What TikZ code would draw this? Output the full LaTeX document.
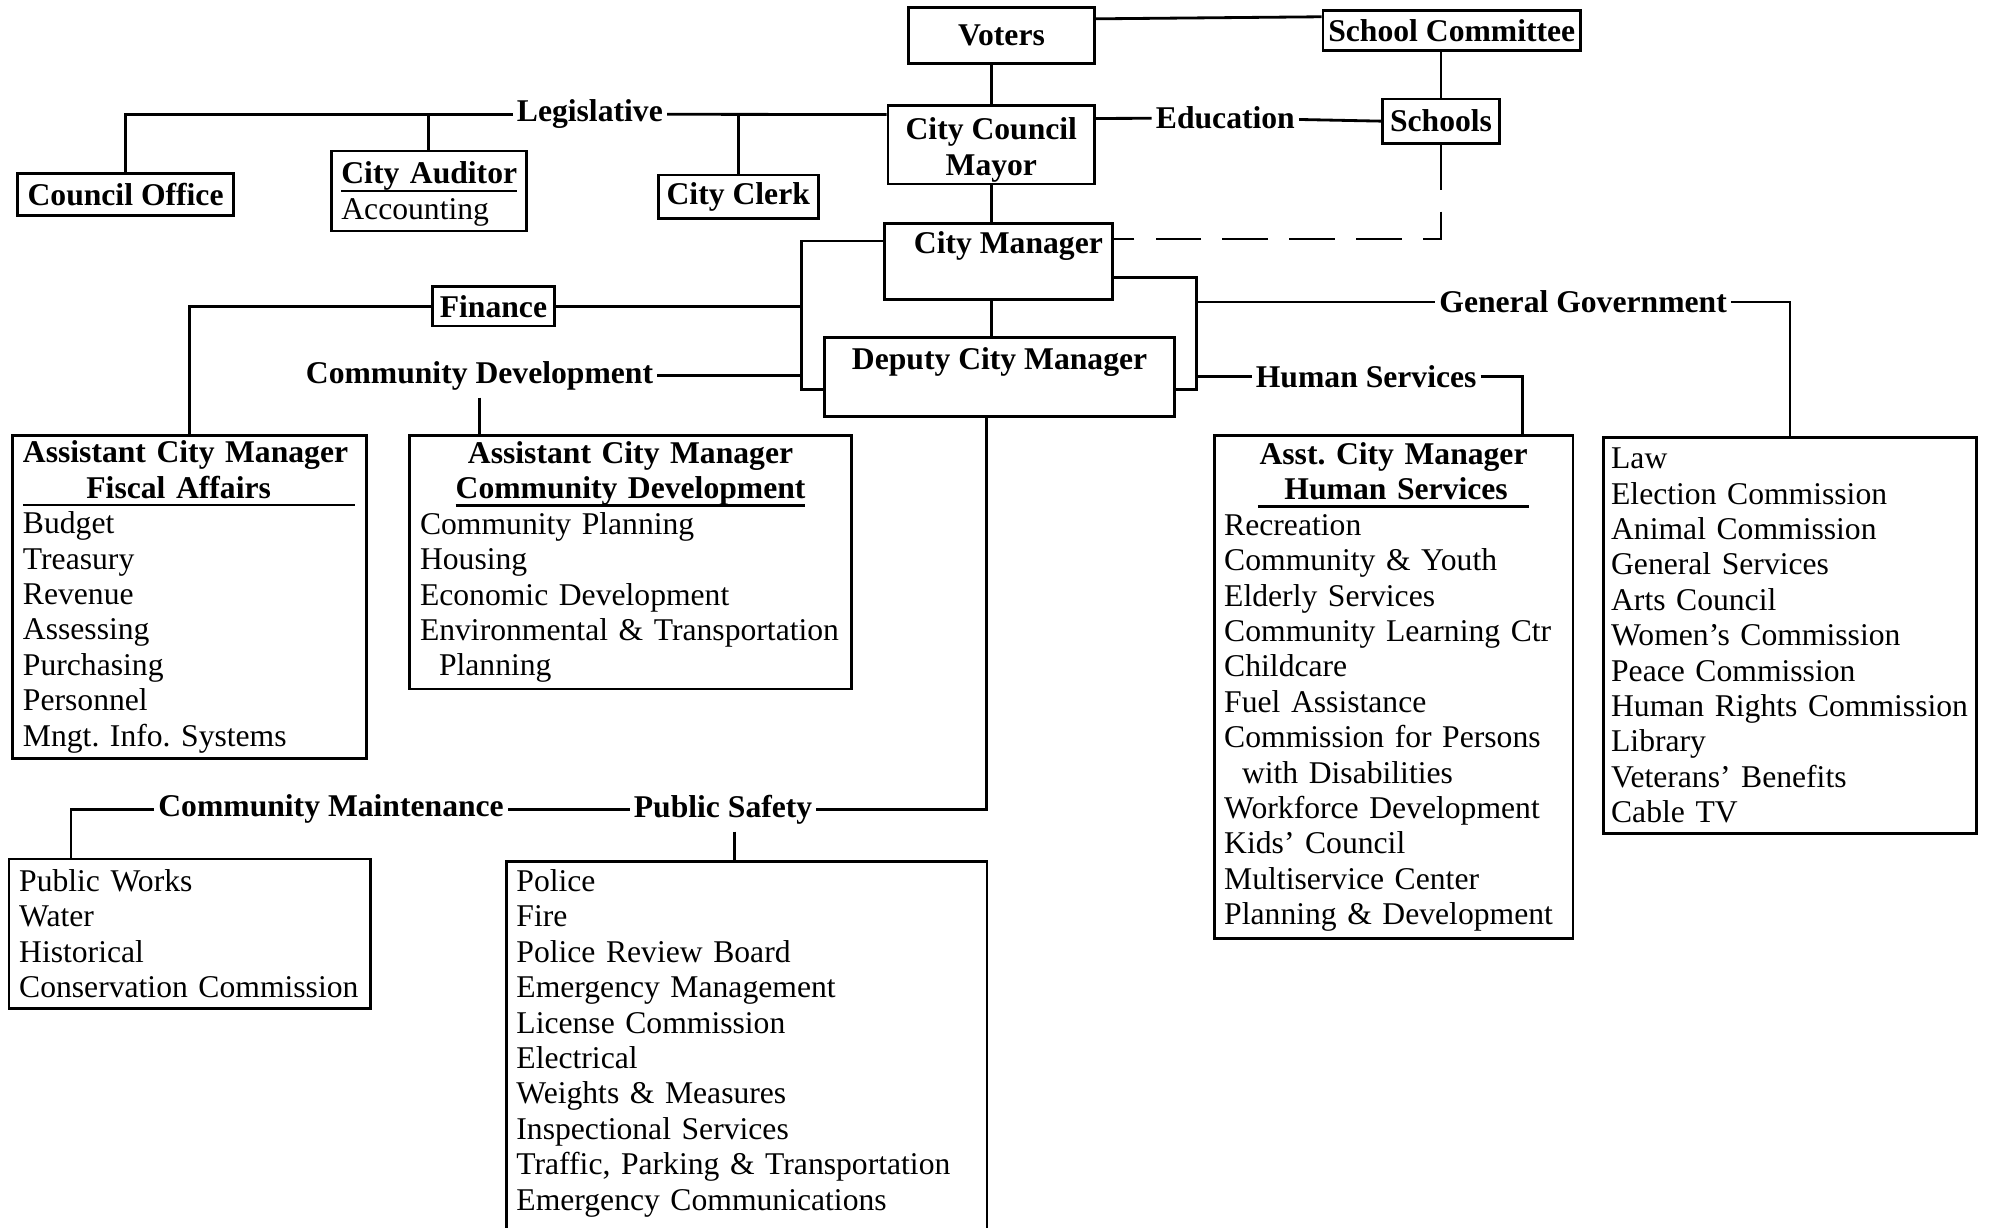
\documentclass[tikz,border=0pt]{standalone}
\usepackage{fontspec}
\setmainfont{Liberation Serif}
\frenchspacing
\newlength{\dpx}\setlength{\dpx}{0.012685cm}
\newcommand{\orgfont}{\fontsize{9}{10.07}\selectfont}
\newcommand{\ctr}[1]{\hspace*{\fill}#1\hspace*{\fill}\null}
\newcommand{\undl}[1]{\setbox0\hbox{#1}\rlap{\rule[-2.2pt]{\wd0}{0.6pt}}\box0}

\begin{document}
\begin{tikzpicture}[x=\dpx, y=-\dpx,
    box/.style={draw, line width=0.8pt, inner sep=0pt, font=\orgfont\bfseries},
    listbox/.style={draw, line width=0.8pt, inner xsep=8\dpx, inner ysep=0pt, align=left, font=\orgfont, anchor=north west},
    lbl/.style={inner xsep=1pt, inner ysep=2pt, font=\orgfont\bfseries},
    link/.style={line width=0.8pt}
  ]
    \useasboundingbox (0,0) rectangle (1568,968);

    % top of the chart
    \node[box, minimum width=147\dpx, minimum height=44\dpx] (voters) at (789.5,28) {Voters};
    \node[box, minimum width=203\dpx, minimum height=32\dpx] (schcom) at (1144.5,24) {School Committee};
    \node[box, minimum width=163\dpx, minimum height=62\dpx, align=center] (council) at (781.5,114) {\rule{0pt}{26\dpx}City Council\\Mayor};
    \node[box, minimum width=92\dpx, minimum height=35\dpx] (schools) at (1136,95.5) {Schools};
    \node[box, minimum width=170\dpx, minimum height=33\dpx] (coffice) at (99,153.5) {Council Office};
    \node[listbox, text width=138\dpx, minimum height=63\dpx] (auditor) at (260,118) {\rule{0pt}{22\dpx}\textbf{\undl{City Auditor}}\\Accounting};
    \node[box, minimum width=126\dpx, minimum height=34\dpx] (clerk) at (582,155) {City Clerk};
    \node[box, minimum width=180\dpx, text height=24\dpx, text depth=36\dpx, anchor=north] (manager) at (787,175) {\hspace*{16\dpx}City Manager};
    \node[box, minimum width=276\dpx, text height=25\dpx, text depth=37\dpx, anchor=north] (deputy) at (788,265) {Deputy City Manager};
    \node[box, minimum width=96\dpx, minimum height=31\dpx] (finance) at (389,241.5) {Finance};

    % branch labels
    \node[lbl] (legis) at (465,90) {Legislative};
    \node[lbl] (edu) at (966,93) {Education};
    \node[lbl] (cdlab) at (378,296) {Community Development};
    \node[lbl] (gglab) at (1248,238) {General Government};
    \node[lbl] (hslab) at (1077,297) {Human Services};
    \node[lbl] (cmlab) at (261,638) {Community Maintenance};
    \node[lbl] (pslab) at (570,638) {Public Safety};

    % departments
    \node[listbox, text width=263\dpx, minimum height=255\dpx] (fiscal) at (9,342) {%
      \textbf{Assistant City Manager}\\
      \textbf{\undl{\makebox[262\dpx][l]{\hspace{50\dpx}Fiscal Affairs}}}\\
      Budget\\Treasury\\Revenue\\Assessing\\Purchasing\\Personnel\\Mngt. Info. Systems};
    \node[listbox, text width=332\dpx, minimum height=200\dpx] (cd) at (322,342) {%
      \ctr{\textbf{Assistant City Manager}}\\
      \ctr{\textbf{\undl{Community Development}}}\\
      Community Planning\\Housing\\Economic Development\\Environmental \& Transportation\\
      \hspace*{15\dpx}Planning};
    \node[listbox, text width=267\dpx, minimum height=397\dpx] (hs) at (956,342) {%
      \ctr{\textbf{Asst. City Manager}}\\
      \ctr{\textbf{\undl{\makebox[214\dpx][l]{\hspace{21\dpx}Human Services}}}}\\
      Recreation\\Community \& Youth\\Elderly Services\\Community Learning Ctr\\Childcare\\
      Fuel Assistance\\Commission for Persons\\\hspace*{14\dpx}with Disabilities\\
      Workforce Development\\Kids' Council\\Multiservice Center\\Planning \& Development};
    \node[listbox, inner xsep=6\dpx, text width=282\dpx, minimum height=312\dpx] (gg) at (1263,344) {%
      Law\\Election Commission\\Animal Commission\\General Services\\Arts Council\\
      Women's Commission\\Peace Commission\\\mbox{Human Rights Commission}\\Library\\
      Veterans' Benefits\\Cable TV};
    \node[listbox, text width=269\dpx, minimum height=118\dpx] (cm) at (6,676) {%
      Public Works\\Water\\Historical\\Conservation Commission};
    \node[listbox, text width=363\dpx, minimum height=309\dpx] (ps) at (398,678) {%
      Police\\Fire\\Police Review Board\\Emergency Management\\License Commission\\
      Electrical\\Weights \& Measures\\Inspectional Services\\
      Traffic, Parking \& Transportation\\Emergency Communications\\\mbox{}};

    \coordinate (lt) at (632,190);
    \coordinate (lb) at (632,307);
    \coordinate (rt) at (943,219);
    \coordinate (rb) at (943,307);
    \coordinate (hsdrop) at (1200,296);
    \coordinate (psr) at (778,638);
    \coordinate (psdrop) at (579,638);
    \coordinate (cmdrop) at (56,638);

    % connectors
    \draw[link] (voters.10) -- (schcom.174);
    \draw[link] (voters.south -| council.north) -- (council.north);
    \draw[link] (schcom.south -| schools.north) -- (schools.north);
    \draw[link] (council.14) -- (edu) -- (schools.west);
    \draw[link, dash pattern=on 13pt off 6pt] (schools.south) |- (manager.11);
    \draw[link] (council.164) -- (legis);
    \draw[link] (legis.west) -| (coffice.north);
    \draw[link] (auditor.north) -- (auditor.north |- legis.west);
    \draw[link] (clerk.north) -- (clerk.north |- legis.east);
    \draw[link] (council.south) -- (council.south |- manager.north);
    \draw[link] (council.south |- manager.south) -- (council.south |- deputy.north);
    \draw[link] (lt -| manager.west) -- (lt) -- (lb) -- (lb -| deputy.west);
    \draw[link] (rt -| manager.east) -- (rt) -- (rb) -- (rb -| deputy.east);
    \draw[link] (finance.east -| lt) -- (finance.east);
    \draw[link] (finance.west) -| (fiscal.north);
    \draw[link] (cdlab.east) -- (cdlab.east -| lt);
    \draw[link] (cdlab.south) -- (cdlab.south |- cd.north);
    \draw[link] (gglab.west -| rt) -- (gglab.west);
    \draw[link] (gglab.east) -| (gg.north);
    \draw[link] (hslab.west -| rt) -- (hslab.west);
    \draw[link] (hslab.east) -| (hs.north -| hsdrop);
    \draw[link] (deputy.south -| psr) -- (psr) -- (pslab.east);
    \draw[link] (pslab.south -| psdrop) -- (ps.north -| psdrop);
    \draw[link] (pslab.west) -- (cmlab.east);
    \draw[link] (cmlab.west) -| (cm.north -| cmdrop);
  \end{tikzpicture}
\end{document}
